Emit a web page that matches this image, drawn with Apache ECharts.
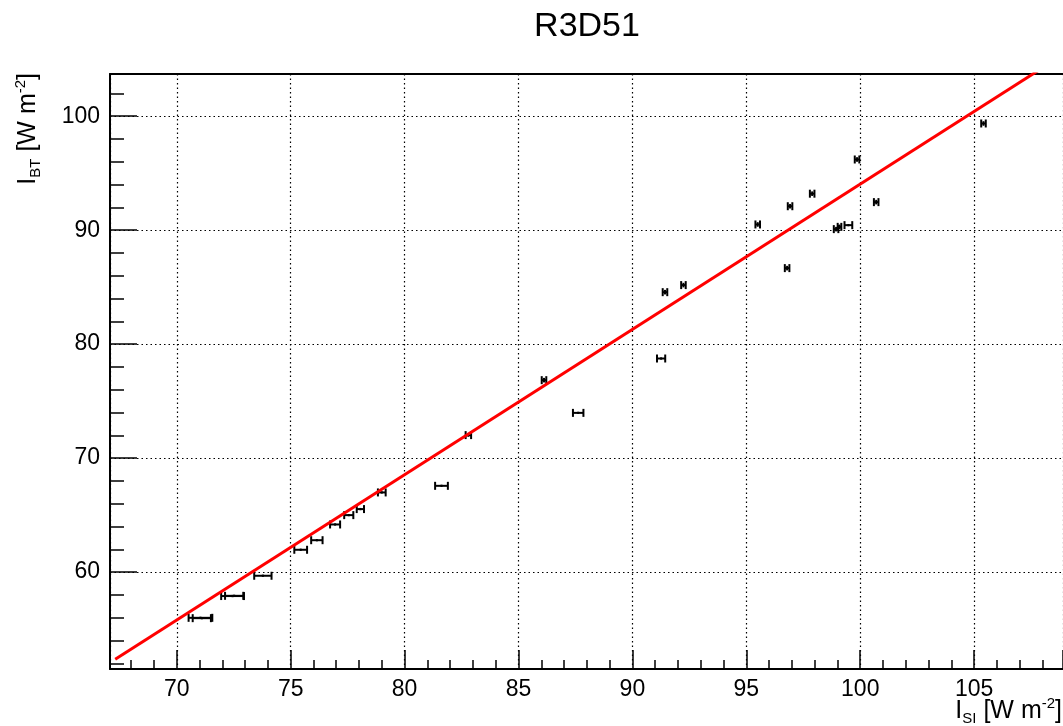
<!DOCTYPE html>
<html>
<head>
<meta charset="utf-8">
<script src="https://cdn.jsdelivr.net/npm/echarts@6/dist/echarts.min.js"></script>
<style>
html,body{margin:0;padding:0;background:#fff;}
#chart{width:1063px;height:726px;}
</style>
</head>
<body>
<div id="chart"></div>
<script>
// ---- data ----
const chartTitle = 'R3D51';
const xVals = [71.04, 71.10, 72.45, 72.52, 73.78, 75.44, 76.15, 76.95, 77.55, 78.06, 79.00, 81.62, 82.80, 86.12, 87.62, 91.26, 91.43, 92.24, 95.50, 96.79, 96.92, 97.89, 98.94, 99.09, 99.48, 99.86, 100.70, 105.41];
const yVals = [55.99, 55.96, 57.90, 57.92, 59.68, 61.96, 62.80, 64.18, 65.00, 65.53, 66.99, 67.57, 72.02, 76.84, 73.97, 78.74, 84.56, 85.18, 90.50, 86.67, 92.10, 93.20, 90.09, 90.29, 90.44, 96.20, 92.46, 99.36];
const xErr  = [0.52, 0.40, 0.50, 0.40, 0.38, 0.28, 0.25, 0.22, 0.20, 0.16, 0.17, 0.28, 0.12, 0.10, 0.23, 0.18, 0.10, 0.10, 0.10, 0.10, 0.10, 0.10, 0.10, 0.08, 0.17, 0.10, 0.10, 0.10];
const yErr  = [0.10, 0.10, 0.10, 0.10, 0.10, 0.10, 0.10, 0.10, 0.10, 0.10, 0.10, 0.10, 0.15, 0.20, 0.10, 0.10, 0.20, 0.20, 0.20, 0.20, 0.20, 0.20, 0.20, 0.20, 0.10, 0.20, 0.20, 0.20];
const fitSlope = 1.275;
const fitIntercept = -33.46;
const fitRange = [67.3, 108.9];
const xRange = [67.07, 108.9];
const yRange = [51.5, 103.7];

// ---- build ----
const FONT = 'Liberation Sans, Helvetica, Arial, sans-serif';
const errData = xVals.map((x, i) => [x, yVals[i], xErr[i], yErr[i]]);
const fitData = fitRange.map(x => [x, fitSlope * x + fitIntercept]);

const chart = echarts.init(document.getElementById('chart'), null, {renderer: 'canvas'});

function renderErr(params, api) {
  const x = api.value(0), y = api.value(1), ex = api.value(2), ey = api.value(3);
  const pL = api.coord([x - ex, y]);
  const pR = api.coord([x + ex, y]);
  const pT = api.coord([x, y + ey]);
  const pB = api.coord([x, y - ey]);
  const c = 4;
  const st = {stroke: '#000', lineWidth: 2};
  return {
    type: 'group',
    children: [
      {type: 'line', shape: {x1: pL[0], y1: pL[1], x2: pR[0], y2: pR[1]}, style: st},
      {type: 'line', shape: {x1: pL[0], y1: pL[1] - c, x2: pL[0], y2: pL[1] + c}, style: st},
      {type: 'line', shape: {x1: pR[0], y1: pR[1] - c, x2: pR[0], y2: pR[1] + c}, style: st},
      {type: 'line', shape: {x1: pT[0], y1: pT[1], x2: pB[0], y2: pB[1]}, style: st}
    ]
  };
}

const axisCommon = {
  type: 'value',
  axisLine: {show: true, lineStyle: {color: '#000', width: 2}},
  axisTick: {show: true, inside: true, lineStyle: {color: '#000', width: 1.5}},
  minorTick: {show: true, splitNumber: 5, lineStyle: {color: '#000', width: 1.5}},
  splitLine: {show: true, lineStyle: {color: '#000', width: 1.2, type: [1.5, 3]}},
  axisLabel: {color: '#000', fontFamily: FONT, fontSize: 23, showMinLabel: false, showMaxLabel: false}
};

const option = {
  animation: false,
  backgroundColor: '#fff',
  grid: {left: 110, top: 74, right: 0, bottom: 57, show: false, containLabel: false},
  xAxis: [
    Object.assign({}, axisCommon, {
      min: xRange[0], max: xRange[1], minInterval: 5, maxInterval: 5, splitNumber: 8,
      axisTick: Object.assign({}, axisCommon.axisTick, {length: 19}),
      minorTick: Object.assign({}, axisCommon.minorTick, {length: 9}),
      axisLabel: Object.assign({}, axisCommon.axisLabel, {margin: 9})
    }),
    {
      type: 'value', position: 'top', min: xRange[0], max: xRange[1],
      axisLine: {show: true, lineStyle: {color: '#000', width: 2}},
      axisTick: {show: false}, axisLabel: {show: false}, splitLine: {show: false}
    }
  ],
  yAxis: Object.assign({}, axisCommon, {
    min: yRange[0], max: yRange[1], minInterval: 10, maxInterval: 10, splitNumber: 5,
    axisTick: Object.assign({}, axisCommon.axisTick, {length: 27}),
    minorTick: Object.assign({}, axisCommon.minorTick, {length: 14}),
    axisLabel: Object.assign({}, axisCommon.axisLabel, {margin: 10})
  }),
  graphic: [
    {type: 'text', x: 587, y: 27, style: {text: chartTitle, fill: '#000', font: '34px ' + FONT, textAlign: 'center', textVerticalAlign: 'middle'}},
    {type: 'text', x: 1062, y: 711, style: {
      text: '{a|I}{b|SI}{a| [W m}{c|-2}{a|]}', textAlign: 'right', textVerticalAlign: 'middle',
      rich: {
        a: {fontSize: 25, fontFamily: FONT, fill: '#000', lineHeight: 30},
        b: {fontSize: 15, fontFamily: FONT, fill: '#000', lineHeight: 14, verticalAlign: 'bottom'},
        c: {fontSize: 15, fontFamily: FONT, fill: '#000', lineHeight: 14, verticalAlign: 'top'}
      }
    }},
    {type: 'text', x: 28, y: 73, rotation: Math.PI / 2, style: {
      text: '{a|I}{b|BT}{a| [W m}{c|-2}{a|]}', textAlign: 'right', textVerticalAlign: 'middle',
      rich: {
        a: {fontSize: 25, fontFamily: FONT, fill: '#000', lineHeight: 30},
        b: {fontSize: 15, fontFamily: FONT, fill: '#000', lineHeight: 14, verticalAlign: 'bottom'},
        c: {fontSize: 15, fontFamily: FONT, fill: '#000', lineHeight: 14, verticalAlign: 'top'}
      }
    }}
  ],
  series: [
    {
      type: 'custom', data: errData, renderItem: renderErr, encode: {x: 0, y: 1}, z: 3, clip: true
    },
    {
      type: 'line', data: fitData, showSymbol: false, clip: true, z: 4,
      lineStyle: {color: '#ff0000', width: 3}
    }
  ]
};
chart.setOption(option);
</script>
</body>
</html>
